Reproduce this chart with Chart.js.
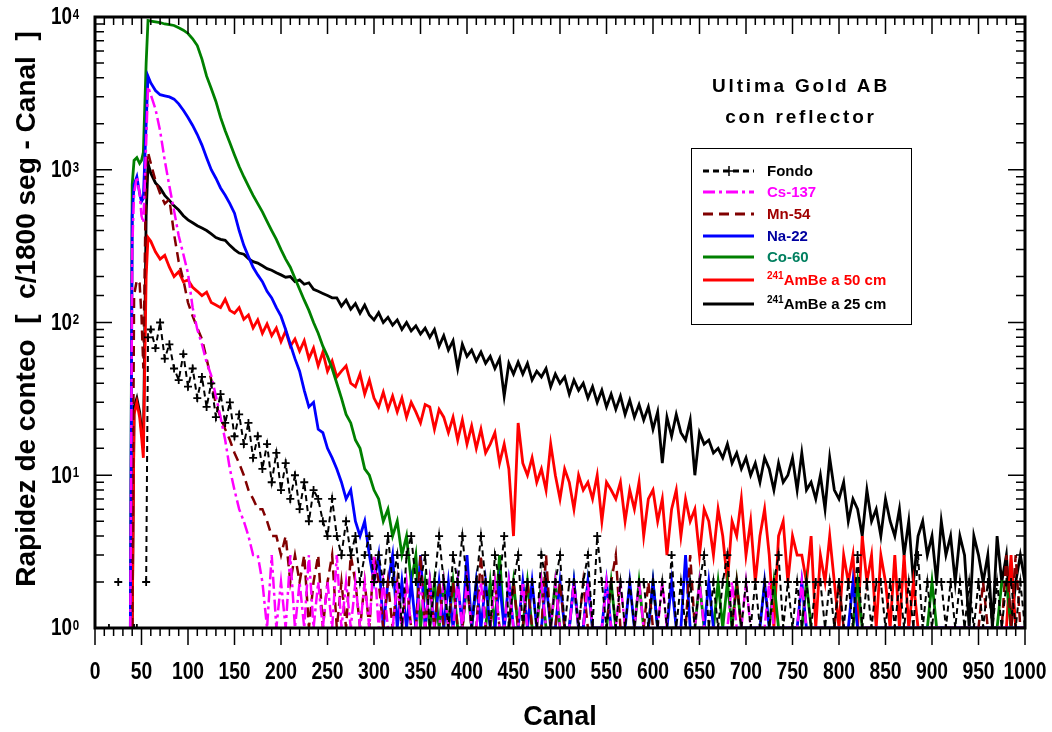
<!DOCTYPE html>
<html>
<head>
<meta charset="utf-8">
<script src="https://cdn.jsdelivr.net/npm/chart.js@4.4.1/dist/chart.umd.min.js"></script>
<style>
  body { margin: 0; background: #fff; }
  #wrap { position: relative; width: 1052px; height: 732px; }
  #titulo {
    position: absolute; left: 680px; width: 242px; top: 70px;
    text-align: center; color: #000;
    font: bold 19px "Liberation Sans", Arial, sans-serif;
    letter-spacing: 2.8px; line-height: 31px;
  }
  #leyenda {
    position: absolute; left: 691px; top: 148px; width: 221px; height: 177px;
    border: 1.5px solid #000; background: #fff; box-sizing: border-box;
  }
  .fila { position: absolute; left: 0; height: 20px; width: 100%; }
  .fila svg { position: absolute; left: 10px; top: 5px; }
  .fila span {
    position: absolute; left: 75px; top: 0; white-space: nowrap;
    font: bold 15px "Liberation Sans", Arial, sans-serif; line-height: 20px;
  }
  .fila sup { font-size: 10px; vertical-align: 6px; line-height: 0; }
</style>
</head>
<body>
<div id="wrap">
  <canvas id="grafico" width="1052" height="732"></canvas>
  <div id="titulo">Ultima Gold AB<br>con reflector</div>
  <div id="leyenda"></div>
</div>
<script>
// ==============================
// DATOS (leidos del espectro)
// ==============================
const canales = [0,5,10,15,20,25,30,35,38,40,42,45,48,50,52,55,57,
  60,65,70,75,80,85,90,95,100,105,110,115,120,125,130,135,140,145,150,155,
  160,165,170,175,180,185,190,195,200,205,210,215,220,225,230,235,240,245,250,255,
  260,265,270,275,280,285,290,295,300,305,310,315,320,325,330,335,340,345,350,355,
  360,365,370,375,380,385,390,395,400,405,410,415,420,425,430,435,440,445,450,455,
  460,465,470,475,480,485,490,495,500,505,510,515,520,525,530,535,540,545,550,555,
  560,565,570,575,580,585,590,595,600,605,610,615,620,625,630,635,640,645,650,655,
  660,665,670,675,680,685,690,695,700,705,710,715,720,725,730,735,740,745,750,755,
  760,765,770,775,780,785,790,795,800,805,810,815,820,825,830,835,840,845,850,855,
  860,865,870,875,880,885,890,895,900,905,910,915,920,925,930,935,940,945,950,955,
  960,965,970,975,980,985,990,995,1000];

const fondo = [null,null,null,1,null,2,null,null,null,null,1,1,null,null,null,2,80,
  90,68,100,58,72,50,42,62,38,50,32,44,28,40,24,34,22,30,18,25,
  16,22,13,18,11,16,9,14,8,12,7,10,6,9,5,8,7,5,4,7,
  4,3,5,3,4,2,3,4,2,3,2,4,2,3,1,3,4,2,2,3,
  1,2,4,2,1,3,2,4,2,1,2,4,2,1,3,2,4,1,2,3,
  1,2,2,1,3,2,1,2,3,1,2,2,1,2,3,1,4,2,1,2,
  1,2,1,2,1,2,2,1,2,1,2,1,3,1,2,1,2,1,2,3,
  1,2,1,2,3,1,2,1,2,1,2,1,2,1,2,3,1,2,1,2,
  1,2,1,2,2,1,2,1,2,1,2,1,3,1,2,1,2,2,1,2,
  1,2,1,2,1,3,1,2,1,2,2,1,2,1,2,1,2,1,2,1,
  2,1,2,1,2,2,1,2,1];

const cs137 = [null,null,null,null,null,null,null,null,1,300,700,900,700,500,450,1500,3500,
  3100,2500,1800,1150,780,540,370,280,210,125,90,72,55,45,33,24,17,11,8,6,
  5,4,3,3,2,1,3,1,2,1,3,1,2,1,3,1,2,1,2,1,
  3,1,2,1,2,1,2,1,3,1,2,1,1,2,1,2,1,1,2,1,
  2,1,1,2,1,1,2,1,2,1,1,2,1,1,2,1,1,2,1,1,
  2,1,1,1,2,1,1,2,1,1,1,2,1,1,2,1,1,1,2,1,
  1,2,1,1,1,2,1,1,1,1,2,1,1,1,1,1,1,1,2,1,
  1,1,1,1,1,2,1,1,2,1,1,1,1,2,1,1,1,1,1,1,
  2,1,1,1,1,1,1,1,1,1,1,1,1,1,1,1,1,1,1,1,
  1,1,1,1,1,1,1,1,1,1,1,1,1,1,1,1,1,1,1,1,
  1,1,1,1,1,1,1,1,1];

const mn54 = [null,null,null,null,null,null,null,null,null,1,150,190,180,110,50,1100,1300,
  1100,850,700,600,640,380,250,190,135,110,92,78,58,42,29,24,20,17,14,12,
  10,8,7,6,6,5,4,4,3,4,2,3,2,3,1,2,3,1,2,3,
  1,2,1,3,2,1,2,1,3,2,1,2,1,2,1,2,1,1,3,1,
  2,1,2,1,1,2,1,1,2,1,1,3,1,1,2,1,1,1,2,1,
  1,2,1,1,1,3,1,1,2,1,1,1,1,2,1,1,1,1,1,2,
  3,1,1,1,1,1,1,2,1,1,1,1,1,1,1,1,3,1,1,1,
  1,1,1,1,1,1,2,1,1,1,1,1,1,1,1,1,1,1,1,1,
  1,1,1,1,1,1,1,1,2,1,1,1,1,1,1,1,1,1,1,1,
  1,1,1,1,1,1,1,1,1,1,1,1,1,1,1,1,1,1,1,2,
  1,1,1,1,3,1,3,1,1];

const na22 = [null,null,null,null,null,null,null,null,1,500,800,900,700,620,650,2000,4100,
  3700,3300,3100,3050,3000,2900,2700,2450,2200,1950,1700,1450,1200,1000,880,760,680,600,520,400,
  320,270,230,205,185,160,145,125,110,90,72,58,48,36,28,30,20,19,15,13,
  11,9,7,8,5,4,5,3,2,3,1,2,3,1,2,1,2,1,3,1,
  2,1,2,1,2,1,2,1,3,1,2,1,2,1,1,2,1,2,1,1,
  2,1,2,1,1,2,1,1,2,1,1,2,1,1,2,1,1,1,2,1,
  1,1,1,2,1,1,1,1,2,1,1,1,2,1,1,3,1,1,1,1,
  2,1,1,1,1,1,1,1,1,1,1,1,2,1,1,1,1,1,1,1,
  2,1,1,1,1,1,1,1,1,1,1,2,1,1,1,1,1,1,1,1,
  1,1,1,1,1,1,1,1,1,1,1,1,1,1,1,1,1,1,1,1,
  1,1,1,1,1,1,1,1,1];

const co60 = [null,null,null,null,null,null,null,null,1,800,1150,1200,1100,1150,1300,5000,9500,
  9400,9300,9200,9000,8900,8800,8500,8200,7800,7200,6500,5300,4100,3400,2800,2200,1800,1500,1250,1050,
  900,780,680,600,530,460,400,350,300,260,230,195,165,140,120,100,85,70,60,50,
  40,32,25,22,17,15,11,10,8,7,5,6,4,5,3,4,2,3,1,2,
  1,2,1,2,1,2,1,1,2,1,2,1,1,2,1,3,1,1,2,1,
  1,2,1,1,2,1,1,2,1,1,1,2,1,1,2,1,1,1,1,2,
  1,1,1,1,1,2,1,1,2,1,1,1,1,1,1,1,1,1,2,1,
  1,1,2,1,2,1,2,1,1,1,1,1,1,1,2,1,1,1,1,1,
  1,2,1,1,1,1,1,1,1,1,1,1,2,1,1,1,1,1,1,1,
  1,1,1,1,1,1,1,1,2,1,1,1,1,1,1,1,1,1,1,1,
  1,1,1,2,2,1,1,1,1];

const ambe50 = [null,null,null,null,null,null,null,null,null,1,25,30,24,18,13,200,360,
  340,290,260,275,230,200,215,185,190,170,160,150,158,135,130,125,142,120,115,125,
  105,112,92,104,85,98,82,92,75,88,70,78,65,76,58,68,52,64,48,56,
  44,48,52,40,38,46,34,42,32,28,35,27,33,26,32,24,30,26,22,29,
  28,20,27,24,19,24,17,23,16,21,15,20,14,16,19,12,16,11,4,22,
  12,10,13,9,11,8,16,10,7,11,9,6,10,8,9,7,10,5,9,8,
  7,9,5,8,6,9,4,7,8,5,7,3,6,8,4,7,5,6,3,6,
  5,3,6,4,2,5,4,7,3,5,2,4,6,3,1,4,5,2,4,3,
  3,2,4,1,3,2,4,2,1,3,2,3,1,4,2,3,1,3,2,1,
  3,1,3,1,2,1,1,1,1,1,1,1,1,1,1,1,1,1,1,1,
  1,1,1,1,1,3,1,1,1];

const ambe25 = [null,null,null,null,null,null,null,null,null,1,28,32,26,20,15,500,1100,
  950,820,760,680,630,580,545,500,470,450,430,415,400,380,360,350,345,320,300,285,
  280,262,250,245,235,225,220,212,205,198,200,185,190,178,182,165,160,155,150,145,
  145,128,140,122,133,115,130,112,104,116,100,108,96,104,90,100,88,95,84,92,
  80,90,70,82,66,76,50,72,60,66,56,64,54,60,50,58,33,54,46,55,
  46,54,42,48,44,50,38,46,40,44,34,42,36,40,32,38,30,36,28,34,
  27,33,25,31,24,29,23,28,20,26,12,24,18,25,19,17,23,10,19,16,
  17,14,15,13,16,12,14,11,13,10,12,9,13,11,8,12,9,10,13,8,
  14,8,9,7,10,6,13,8,7,9,5,7,6,4,8,5,6,4,7,5,
  4,6,3,5,2,4,5,3,4,2,5,3,4,2,4,3,1,4,3,2,
  3,1,4,2,3,1,2,3,2];

const ticksX = [0,50,100,150,200,250,300,350,400,450,500,550,600,650,700,750,800,850,900,950,1000];
const decadasY = [1, 10, 100, 1000, 10000];
const exponentesY = ['0', '1', '2', '3', '4'];
const tituloY = 'Rapidez de conteo  [  c/1800 seg - Canal  ]';

// ==============================
// SERIES
// ==============================
const series = [
  { nombre: 'Fondo', html: 'Fondo', valores: fondo, color: '#000000', texto: '#000000', dash: [6, 4], ancho: 2, punto: true },
  { nombre: 'Cs-137', html: 'Cs-137', valores: cs137, color: '#FF00FF', texto: '#FF00FF', dash: [12, 4, 3, 4], ancho: 2.5 },
  { nombre: 'Mn-54', html: 'Mn-54', valores: mn54, color: '#800000', texto: '#A00000', dash: [10, 6], ancho: 2.5 },
  { nombre: 'Na-22', html: 'Na-22', valores: na22, color: '#0000FF', texto: '#0000A0', dash: [], ancho: 2.8 },
  { nombre: 'Co-60', html: 'Co-60', valores: co60, color: '#008000', texto: '#007F5F', dash: [], ancho: 2.8 },
  { nombre: '241AmBe a 50 cm', html: '<sup>241</sup>AmBe a 50 cm', valores: ambe50, color: '#FF0000', texto: '#FF0000', dash: [], ancho: 2.8 },
  { nombre: '241AmBe a 25 cm', html: '<sup>241</sup>AmBe a 25 cm', valores: ambe25, color: '#000000', texto: '#000000', dash: [], ancho: 2.8 }
];

// ==============================
// LEYENDA
// ==============================
const filasTop = [12, 33, 55, 77, 98, 121, 145];
const leyenda = document.getElementById('leyenda');
series.forEach((s, i) => {
  const fila = document.createElement('div');
  fila.className = 'fila';
  fila.style.top = filasTop[i] + 'px';
  const dash = s.dash.length ? `stroke-dasharray="${s.dash.join(' ')}"` : '';
  const cruz = s.punto ? `<path d="M22 5 H32 M27 0 V10" stroke="${s.color}" stroke-width="1.5"/>` : '';
  fila.innerHTML = `
    <svg width="54" height="10">
      <line x1="1" y1="5" x2="52" y2="5" stroke="${s.color}" stroke-width="3" ${dash}/>
      ${cruz}
    </svg>
    <span style="color:${s.texto}">${s.html}</span>
  `;
  leyenda.appendChild(fila);
});

// ==============================
// MARCO, TICKS INTERIORES Y ETIQUETAS
// ==============================
const fuente = '"Liberation Sans", Arial, sans-serif';

const marcoEjes = {
  id: 'marcoEjes',
  afterDraw(chart) {
    const { ctx, chartArea: a, scales: { x, y } } = chart;
    ctx.save();
    ctx.strokeStyle = '#000';
    ctx.fillStyle = '#000';
    ctx.lineWidth = 1.5;
    ctx.beginPath();
    y.ticks.forEach(t => {
      const py = y.getPixelForValue(t.value);
      const l = decadasY.includes(t.value) ? 17 : 9;
      ctx.moveTo(a.left, py); ctx.lineTo(a.left + l, py);
      ctx.moveTo(a.right, py); ctx.lineTo(a.right - l, py);
    });
    x.ticks.forEach(t => {
      const px = x.getPixelForValue(t.value);
      const l = ticksX.includes(t.value) ? 17 : 8;
      ctx.moveTo(px, a.top); ctx.lineTo(px, a.top + l);
      ctx.moveTo(px, a.bottom); ctx.lineTo(px, a.bottom + l);
    });
    ctx.stroke();
    ctx.lineWidth = 3;
    ctx.strokeRect(a.left, a.top, a.right - a.left, a.bottom - a.top);

    // etiquetas del eje x (letra estrecha)
    ctx.font = `bold 23px ${fuente}`;
    ctx.textAlign = 'center';
    ctx.textBaseline = 'middle';
    ticksX.forEach(v => {
      ctx.save();
      ctx.translate(x.getPixelForValue(v), a.bottom + 45);
      ctx.scale(0.84, 1);
      ctx.fillText(String(v), 0, 0);
      ctx.restore();
    });

    // etiquetas del eje y: 10 con exponente
    decadasY.forEach((v, i) => {
      const py = y.getPixelForValue(v);
      ctx.save();
      ctx.translate(a.left - 23, py);
      ctx.scale(0.82, 1);
      ctx.font = `bold 23px ${fuente}`;
      ctx.textAlign = 'right';
      ctx.textBaseline = 'middle';
      ctx.fillText('10', 0, 1);
      ctx.font = `bold 14px ${fuente}`;
      ctx.textAlign = 'left';
      ctx.textBaseline = 'top';
      ctx.fillText(exponentesY[i], 1, -9);
      ctx.restore();
    });

    // titulo del eje y
    ctx.save();
    ctx.translate(27, 309);
    ctx.rotate(-Math.PI / 2);
    ctx.font = `bold 28px ${fuente}`;
    ctx.textAlign = 'center';
    ctx.textBaseline = 'middle';
    ctx.fillText(tituloY, 0, 0);
    ctx.restore();
    ctx.restore();
  }
};

// ==============================
// GRAFICO
// ==============================
new Chart(document.getElementById('grafico'), {
  type: 'line',
  data: {
    datasets: series.map(s => ({
      label: s.nombre,
      data: canales.map((c, i) => ({ x: c, y: s.valores[i] })),
      borderColor: s.color,
      borderWidth: s.ancho,
      borderDash: s.dash,
      pointRadius: s.punto ? 4 : 0,
      pointStyle: 'cross',
      pointBorderColor: s.color,
      pointBorderWidth: 1.8,
      tension: 0,
      fill: false
    }))
  },
  options: {
    responsive: false,
    animation: false,
    layout: { padding: { left: 0, right: 27, top: 17, bottom: 0 } },
    plugins: { legend: { display: false }, tooltip: { enabled: false } },
    scales: {
      x: {
        type: 'linear', min: 0, max: 1000,
        grid: { display: false },
        border: { display: false },
        afterFit: s => { s.height = 104; },
        ticks: { stepSize: 10, autoSkip: false, display: false },
        title: {
          display: true, text: 'Canal', color: '#000',
          font: { family: fuente, size: 27, weight: 'bold' },
          padding: { top: 0, bottom: -2 }
        }
      },
      y: {
        type: 'logarithmic', min: 1, max: 10000,
        grid: { display: false },
        border: { display: false },
        afterFit: s => { s.width = 95; },
        ticks: { autoSkip: false, display: false }
      }
    }
  },
  plugins: [marcoEjes]
});
</script>
</body>
</html>
